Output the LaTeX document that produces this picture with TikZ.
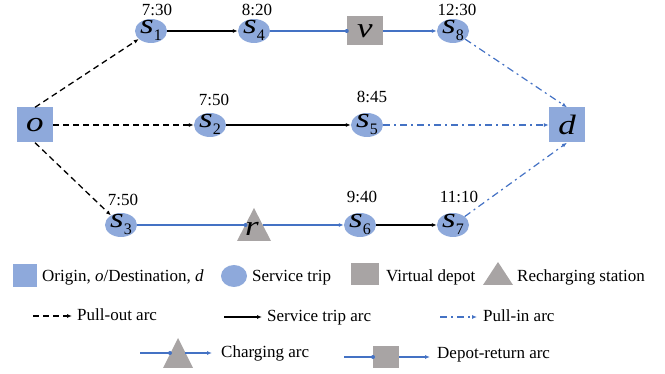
\documentclass[tikz,border=0pt]{standalone}
\usepackage{fontspec}
\usepackage{graphicx}
\setmainfont{Liberation Serif}
\usetikzlibrary{arrows.meta,shapes.geometric}

\definecolor{tripblue}{RGB}{142,169,219}
\definecolor{depotgrey}{RGB}{168,164,164}
\definecolor{arcblue}{RGB}{68,114,196}

% italic variable with an upright index, as used inside the trip nodes;
% smashed so that the ellipse keeps its fixed size
\newcommand{\tripvar}[2]{\smash{\raisebox{-3pt}{\scalebox{1.25}[1]{\fontsize{28}{28}\selectfont\itshape #1}\raisebox{-7pt}{\fontsize{16}{16}\selectfont #2}}}}
\newcommand{\bigvar}[1]{\scalebox{1.25}[1]{\fontsize{28}{28}\selectfont\itshape #1}}

\tikzset{
  trip/.style={ellipse, fill=tripblue, minimum width=32pt, minimum height=24pt, inner sep=0pt},
  terminal/.style={rectangle, fill=tripblue, minimum width=36pt, minimum height=35pt, inner sep=0pt},
  vdepot/.style={rectangle, fill=depotgrey, minimum width=36pt, minimum height=29pt, inner sep=0pt},
  clock/.style={font=\fontsize{17}{17}\selectfont, inner sep=0pt},
  legtext/.style={font=\fontsize{17}{17}\selectfont, anchor=base west, inner sep=0pt},
  tip/.style={-{Latex[length=5pt,width=4pt]}},
  pullout/.style={draw=black, line width=1.3pt, dash pattern=on 6pt off 4pt, tip},
  triparc/.style={draw=black, line width=1.3pt, tip},
  pullin/.style={draw=arcblue, line width=1.2pt, dash pattern=on 7pt off 4pt on 2pt off 4pt, tip},
  bluearc/.style={draw=arcblue, line width=1.2pt},
  bluetip/.style={bluearc, tip},
  bluedot/.style={fill=arcblue},
}

\begin{document}
\begin{tikzpicture}[x=1pt, y=-1pt]
\useasboundingbox (0,0) rectangle (665,374);

% ---------- network nodes ----------
\node[terminal] (o) at (35,125) {\bigvar{o}};
\node[terminal] (d) at (567,125) {\bigvar{d}};

\node[trip] (s1) at (151,31) {\tripvar{s}{1}};
\node[trip] (s4) at (254,31) {\tripvar{s}{4}};
\node[vdepot] (v) at (365,31) {\bigvar{v}};
\node[trip] (s8) at (453,31) {\tripvar{s}{8}};

\node[trip] (s2) at (210,125) {\tripvar{s}{2}};
\node[trip] (s5) at (367,125) {\tripvar{s}{5}};

\node[trip] (s3) at (121,225) {\tripvar{s}{3}};
\node[trip] (s6) at (360,225) {\tripvar{s}{6}};
\node[trip] (s7) at (453,225) {\tripvar{s}{7}};

% recharging station r
\fill[depotgrey] (237,241) -- (254,208) -- (271,241) -- cycle;
\node[inner sep=0pt] (r) at (252,229) {\bigvar{r}};
\coordinate (rin) at (245.5,225);
\coordinate (rout) at (262.5,225);

% ---------- departure times ----------
\node[clock] (t1) at (157,10) {7:30};
\node[clock] (t4) at (257,10) {8:20};
\node[clock] (t8) at (457,10) {12:30};
\node[clock] (t2) at (214,100) {7:50};
\node[clock] (t5) at (372,97) {8:45};
\node[clock] (t3) at (123,200) {7:50};
\node[clock] (t6) at (362,197) {9:40};
\node[clock] (t7) at (459,197) {11:10};

% ---------- arcs ----------
\draw[pullout] (o.north) -- (s1);
\draw[pullout] (o.east) -- (s2.west);
\draw[pullout] (o.south) -- (s3);

\draw[triparc] (s1.east) -- (s4.west);
\draw[triparc] (s2.east) -- (s5.west);
\draw[triparc] (s6.east) -- (s7.west);

\draw[bluearc] (s4.east) -- (v.west);
\fill[bluedot] (v.west) circle (2pt);
\draw[bluetip] (v.east) -- (s8.west);

\draw[bluearc] (s3.east) -- (rin);
\fill[bluedot] (rin) circle (2pt);
\draw[bluetip] (rout) -- (s6.west);

\draw[pullin] (s8) -- (d.north);
\draw[pullin] (s5.east) -- (d.west);
\draw[pullin] (s7) -- (d.south);

% ---------- legend ----------
\node[rectangle, fill=tripblue, minimum width=24pt, minimum height=23pt, inner sep=0pt] (ko) at (25,276) {};
\node[legtext] (lo) at (42,282) {Origin, \textit{o}/Destination, \textit{d}};
\node[ellipse, fill=tripblue, minimum width=26pt, minimum height=22pt, inner sep=0pt] (ks) at (234,276) {};
\node[legtext] (ls) at (252,282) {Service trip};
\node[rectangle, fill=depotgrey, minimum width=28pt, minimum height=22pt, inner sep=0pt] (kv) at (365,274) {};
\node[legtext] (lv) at (386,282) {Virtual depot};
\fill[depotgrey] (483,285) -- (498,262) -- (513,285) -- cycle;
\node[legtext] (lr) at (517,282) {Recharging station};

\coordinate (pa) at (33,316);
\coordinate (pb) at (72,316);
\draw[pullout] (pa) -- (pb);
\node[legtext] (lpo) at (77,321) {Pull-out arc};

\coordinate (ta) at (224,317);
\coordinate (tb) at (262,317);
\draw[triparc] (ta) -- (tb);
\node[legtext] (ltr) at (267,322) {Service trip arc};

\coordinate (ia) at (440,317);
\coordinate (ib) at (477,317);
\draw[pullin] (ia) -- (ib);
\node[legtext] (lpi) at (483,322) {Pull-in arc};

\coordinate (ca) at (140,353);
\coordinate (cb) at (170,353);
\coordinate (cc) at (185,353);
\coordinate (cd) at (212,353);
\draw[bluearc] (ca) -- (cb);
\fill[depotgrey] (163,368) -- (178,338) -- (193,368) -- cycle;
\fill[bluedot] (cb) circle (2pt);
\draw[bluetip] (cc) -- (cd);
\node[legtext] (lc) at (221,358) {Charging arc};

\coordinate (da) at (344,357);
\coordinate (db) at (373,357);
\coordinate (dc) at (399,357);
\coordinate (dd) at (430,357);
\draw[bluearc] (da) -- (db);
\fill[depotgrey] (373,346) rectangle (399,368);
\fill[bluedot] (db) circle (2pt);
\draw[bluetip] (dc) -- (dd);
\node[legtext] (ld) at (437,359) {Depot-return arc};
\end{tikzpicture}
\end{document}
